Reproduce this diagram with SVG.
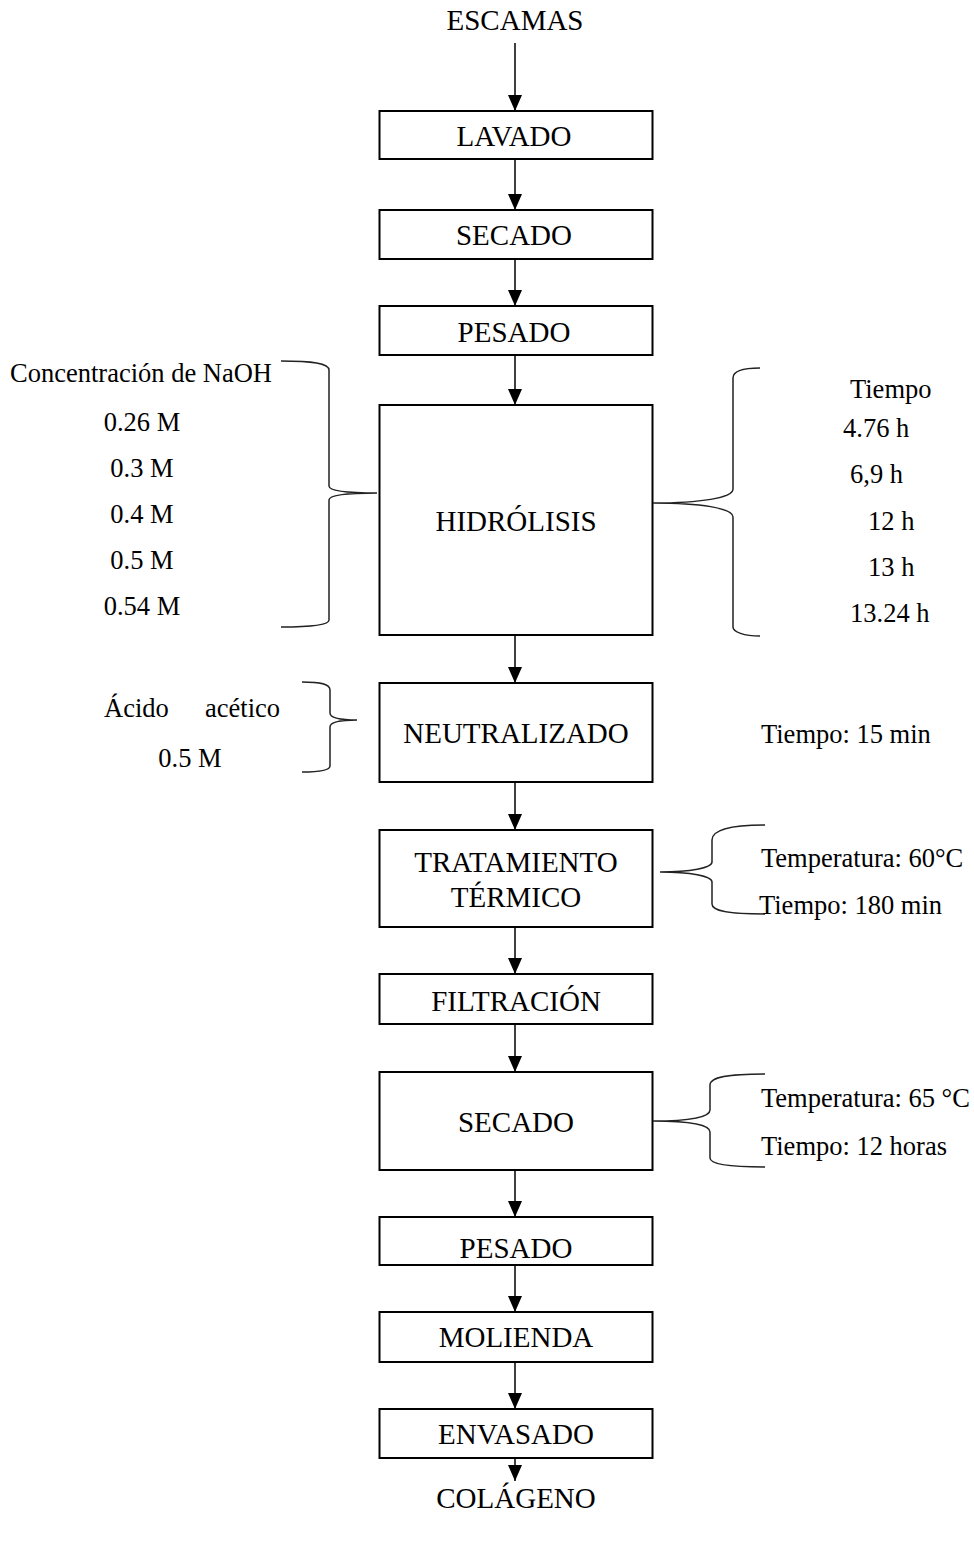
<svg xmlns="http://www.w3.org/2000/svg" width="974" height="1541" viewBox="0 0 974 1541">
<style>
text{font-family:"Liberation Serif","Times New Roman",serif;font-size:26.5px;fill:#000}
.c{text-anchor:middle}
.cap{font-size:29px}
.box{fill:#fff;stroke:#000;stroke-width:2}
.arr{stroke:#000;stroke-width:1.5;fill:none;marker-end:url(#ah)}
.br{stroke:#222;stroke-width:1.5;fill:none}
</style>
<defs>
<marker id="ah" viewBox="0 0 16 14" refX="16" refY="7" markerWidth="16" markerHeight="14" markerUnits="userSpaceOnUse" orient="auto">
<path d="M0,0 L16,7 L0,14 z" fill="#000"/>
</marker>
</defs>
<rect width="974" height="1541" fill="#fff"/>
<g id="connectors">
<line class="arr" x1="515" y1="43" x2="515" y2="111"/>
<line class="arr" x1="515" y1="159" x2="515" y2="210"/>
<line class="arr" x1="515" y1="259" x2="515" y2="306"/>
<line class="arr" x1="515" y1="355" x2="515" y2="405"/>
<line class="arr" x1="515" y1="635" x2="515" y2="683"/>
<line class="arr" x1="515" y1="782" x2="515" y2="830"/>
<line class="arr" x1="515" y1="927" x2="515" y2="974"/>
<line class="arr" x1="515" y1="1024" x2="515" y2="1072"/>
<line class="arr" x1="515" y1="1170" x2="515" y2="1217"/>
<line class="arr" x1="515" y1="1265" x2="515" y2="1312"/>
<line class="arr" x1="515" y1="1362" x2="515" y2="1409"/>
<line class="arr" x1="515" y1="1458" x2="515" y2="1481"/>
</g>
<g id="escamas"><text class="c cap" x="515" y="30">ESCAMAS</text></g>
<g id="lavado"><rect class="box" x="379.5" y="111" width="273" height="48"/><text class="c cap" x="514" y="146">LAVADO</text></g>
<g id="secado1"><rect class="box" x="379.5" y="210" width="273" height="49"/><text class="c cap" x="514" y="245">SECADO</text></g>
<g id="pesado1"><rect class="box" x="379.5" y="306" width="273" height="49"/><text class="c cap" x="514" y="342">PESADO</text></g>
<g id="hidrolisis"><rect class="box" x="379.5" y="405" width="273" height="230"/><text class="c cap" x="516" y="531">HIDRÓLISIS</text></g>
<g id="neutralizado"><rect class="box" x="379.5" y="683" width="273" height="99"/><text class="c cap" x="516" y="743">NEUTRALIZADO</text></g>
<g id="tratamiento"><rect class="box" x="379.5" y="830" width="273" height="97"/><text class="c cap" x="516" y="872">TRATAMIENTO</text><text class="c cap" x="516" y="907">TÉRMICO</text></g>
<g id="filtracion"><rect class="box" x="379.5" y="974" width="273" height="50"/><text class="c cap" x="516" y="1011">FILTRACIÓN</text></g>
<g id="secado2"><rect class="box" x="379.5" y="1072" width="273" height="98"/><text class="c cap" x="516" y="1132">SECADO</text></g>
<g id="pesado2"><rect class="box" x="379.5" y="1217" width="273" height="48"/><text class="c cap" x="516" y="1258">PESADO</text></g>
<g id="molienda"><rect class="box" x="379.5" y="1312" width="273" height="50"/><text class="c cap" x="516" y="1347">MOLIENDA</text></g>
<g id="envasado"><rect class="box" x="379.5" y="1409" width="273" height="49"/><text class="c cap" x="516" y="1444">ENVASADO</text></g>
<g id="colageno"><text class="c cap" x="516" y="1508">COLÁGENO</text></g>
<g id="naoh">
<path class="br" d="M281,361 C312,361 329,363 329,370 L329,486 C329,491 350,493 377,493 C350,493 329,495 329,500 L329,620 C329,625 312,627 281,627"/>
<text x="10" y="382">Concentración de NaOH</text>
<text class="c" x="142" y="431">0.26 M</text>
<text class="c" x="142" y="477">0.3 M</text>
<text class="c" x="142" y="523">0.4 M</text>
<text class="c" x="142" y="569">0.5 M</text>
<text class="c" x="142" y="615">0.54 M</text>
</g>
<g id="tiempo-hidrolisis">
<path class="br" d="M760,368 C744,368 733,371 733,378 L733,489 C733,498 700,503 653,503 C700,503 733,508 733,517 L733,627 C733,632 744,636 760,636"/>
<text x="850" y="398">Tiempo</text>
<text x="843" y="437">4.76 h</text>
<text x="850" y="483">6,9 h</text>
<text x="868" y="530">12 h</text>
<text x="868" y="576">13 h</text>
<text x="850" y="622">13.24 h</text>
</g>
<g id="acido">
<path class="br" d="M302,682 C321,682 330,684 330,690 L330,713 C330,718 340,720 357,720 C340,720 330,722 330,727 L330,766 C330,770 321,772 302,772"/>
<text x="104" y="717">Ácido</text>
<text x="205" y="717">acético</text>
<text class="c" x="190" y="767">0.5 M</text>
</g>
<g id="tiempo-neutralizado"><text x="761" y="743">Tiempo: 15 min</text></g>
<g id="cond-tratamiento">
<path class="br" d="M765,825 C728,825 712,830 712,840 L712,862 C712,868 690,872 660,872 C690,872 712,876 712,882 L712,904 C712,911 728,914 765,914"/>
<text x="761" y="867">Temperatura: 60°C</text>
<text x="759" y="914">Tiempo: 180 min</text>
</g>
<g id="cond-secado">
<path class="br" d="M765,1074 C728,1074 710,1077 710,1085 L710,1110 C710,1117 690,1121 653,1121 C690,1121 710,1125 710,1132 L710,1158 C710,1164 728,1167 765,1167"/>
<text x="761" y="1107">Temperatura: 65 °C</text>
<text x="761" y="1155">Tiempo: 12 horas</text>
</g>
</svg>
